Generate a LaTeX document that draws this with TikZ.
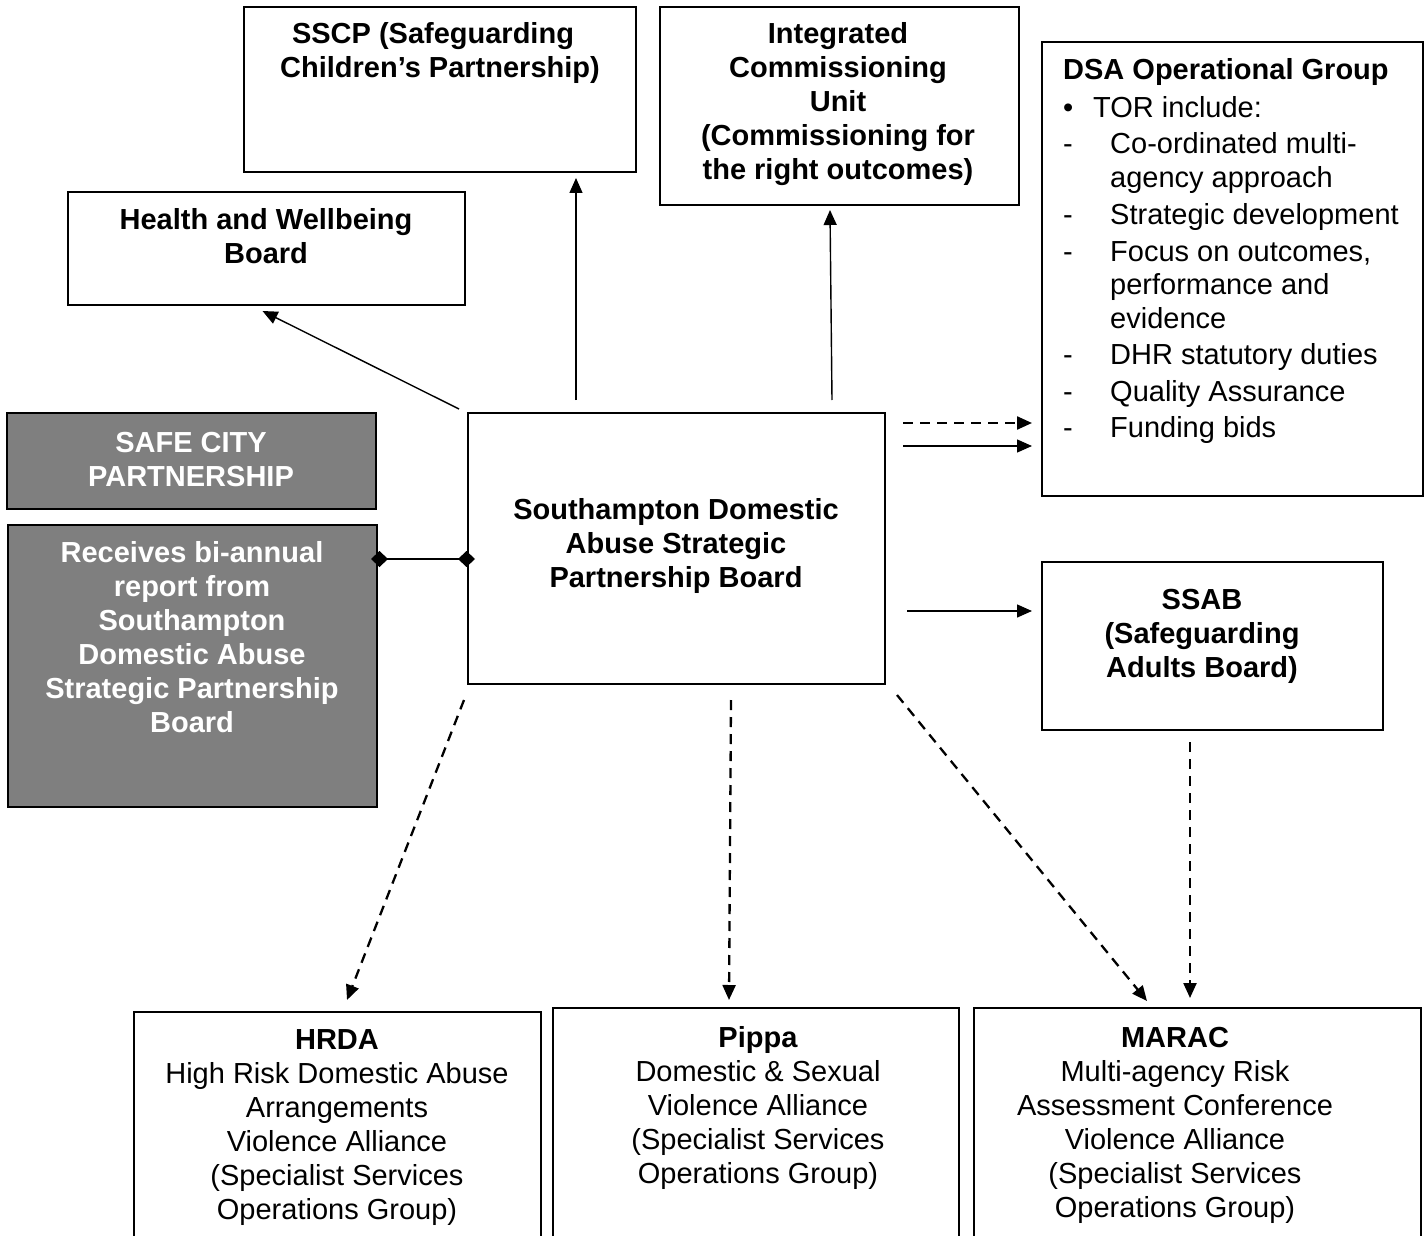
\documentclass[tikz,border=0pt]{standalone}
\usepackage{fontspec}
\setmainfont{Liberation Sans}
\usetikzlibrary{arrows.meta,calc}
\definecolor{boxgray}{HTML}{7F7F7F}
\begin{document}
\begin{tikzpicture}[x=1pt,y=-1pt,
  box/.style={draw, line width=2pt, inner sep=0pt, outer sep=0pt, anchor=north west},
  gbox/.style={box, fill=boxgray},
  txt/.style={font=\fontsize{29}{34}\selectfont, align=center, inner sep=0pt, anchor=base},
  btxt/.style={txt, font=\fontsize{29}{34}\selectfont\bfseries},
  ltxt/.style={font=\fontsize{29}{34}\selectfont, inner sep=0pt, anchor=base west},
  arr/.style={line width=1.4pt, -{Triangle[length=15pt,width=13pt]}},
  darr/.style={arr, line width=2.3pt, dash pattern=on 10pt off 7pt},
  diam/.style={line width=1.8pt, {Diamond[length=17pt,width=16pt]}-{Diamond[length=17pt,width=16pt]}}
]
\useasboundingbox (0,0) rectangle (1425,1236);
\clip (0,0) rectangle (1425,1236);
\fill[white] (0,0) rectangle (1425,1236);

% boxes
\node[box, minimum width=392pt, minimum height=165pt] (sscp) at (244,7) {};
\node[box, minimum width=359pt, minimum height=198pt] (icu) at (660,7) {};
\node[box, minimum width=381pt, minimum height=454pt] (dsa) at (1042,42) {};
\node[box, minimum width=397pt, minimum height=113pt] (hwb) at (68,192) {};
\node[gbox, minimum width=369pt, minimum height=96pt] (safe) at (7,413) {};
\node[gbox, minimum width=369pt, minimum height=282pt] (recv) at (8,525) {};
\node[box, minimum width=417pt, minimum height=271pt] (board) at (468,413) {};
\node[box, minimum width=341pt, minimum height=168pt] (ssab) at (1042,562) {};
\node[box, minimum width=407pt, minimum height=260pt] (hrda) at (134,1012) {};
\node[box, minimum width=406pt, minimum height=260pt] (pippa) at (553,1008) {};
\node[box, minimum width=447pt, minimum height=260pt] (marac) at (974,1008) {};

% texts (anchor base = baseline of last line)
\node[btxt] (tsscp) at (440,78) {SSCP (Safeguarding\hspace*{14pt}\\Children’s Partnership)};
\node[btxt] (ticu) at (838,179) {Integrated\\Commissioning\\Unit\\(Commissioning for\\the right outcomes)};
\node[btxt] (thwb) at (266,263) {Health and Wellbeing\\Board};
\node[btxt, text=white] (tsafe) at (191,486) {SAFE CITY\\PARTNERSHIP};
\node[btxt, text=white] (trecv) at (192,732) {Receives bi-annual\\report from\\Southampton\\Domestic Abuse\\Strategic Partnership\\Board};
\node[btxt] (tboard) at (676,587) {Southampton Domestic\\Abuse Strategic\\Partnership Board};
\node[btxt] (tssab) at (1202,677) {SSAB\\(Safeguarding\\Adults Board)};
\node[txt] (thrda) at (337,1219) {\textbf{HRDA}\\High Risk Domestic Abuse\\Arrangements\\Violence Alliance\\(Specialist Services\\Operations Group)};
\node[txt] (tpippa) at (758,1183) {\textbf{Pippa}\\Domestic \& Sexual\\Violence Alliance\\(Specialist Services\\Operations Group)};
\node[txt] (tmarac) at (1175,1217) {\textbf{MARAC}\\Multi-agency Risk\\Assessment Conference\\Violence Alliance\\(Specialist Services\\Operations Group)};

% DSA list
\node[ltxt, font=\fontsize{29}{34}\selectfont\bfseries] (d0) at (1063,80) {DSA Operational Group};
\node[ltxt] (d1b) at (1063,118) {•};
\node[ltxt] (d1) at (1093,118) {TOR include:};
\node[ltxt] (d2b) at (1063,154) {-};
\node[ltxt] (d2) at (1110,154) {Co-ordinated multi-};
\node[ltxt] (d2c) at (1110,188) {agency approach};
\node[ltxt] (d3b) at (1063,224) {-};
\node[ltxt] (d3) at (1110,224) {Strategic development};
\node[ltxt] (d4b) at (1063,261) {-};
\node[ltxt] (d4) at (1110,261) {Focus on outcomes,};
\node[ltxt] (d4c) at (1110,294) {performance and};
\node[ltxt] (d4d) at (1110,328) {evidence};
\node[ltxt] (d5b) at (1063,364) {-};
\node[ltxt] (d5) at (1110,364) {DHR statutory duties};
\node[ltxt] (d6b) at (1063,401) {-};
\node[ltxt] (d6) at (1110,401) {Quality Assurance};
\node[ltxt] (d7b) at (1063,437) {-};
\node[ltxt] (d7) at (1110,437) {Funding bids};

% connectors
\draw[arr] ($(board.north west)+(-9,-4)$) -- ($(hwb.south)+(-4,6)$);
\draw[arr] ($(board.north west)+(108,-13)$) -- ($(sscp.south west)+(332,6)$);
\draw[arr] ($(board.north west)+(364,-13)$) -- ($(icu.south west)+(170,5)$);
\draw[darr] ($(board.north east)+(18,10)$) -- ($(dsa.north west)+(-10,381)$);
\draw[arr] ($(board.north east)+(18,33)$) -- ($(dsa.north west)+(-10,404)$);
\draw[arr] ($(board.north east)+(22,198)$) -- ($(ssab.north west)+(-10,49)$);
\draw[diam] ($(recv.north east)+(-6,34)$) -- ($(board.north west)+(7,146)$);
\draw[darr] ($(board.south west)+(-4,16)$) -- ($(hrda.north west)+(213,-12)$);
\draw[darr] ($(board.south west)+(263,16)$) -- ($(pippa.north west)+(176,-8)$);
\draw[darr] ($(board.south east)+(12,11)$) -- ($(marac.north west)+(173,-7)$);
\draw[darr] ($(ssab.south west)+(148,12)$) -- ($(marac.north west)+(216,-10)$);
\end{tikzpicture}
\end{document}
